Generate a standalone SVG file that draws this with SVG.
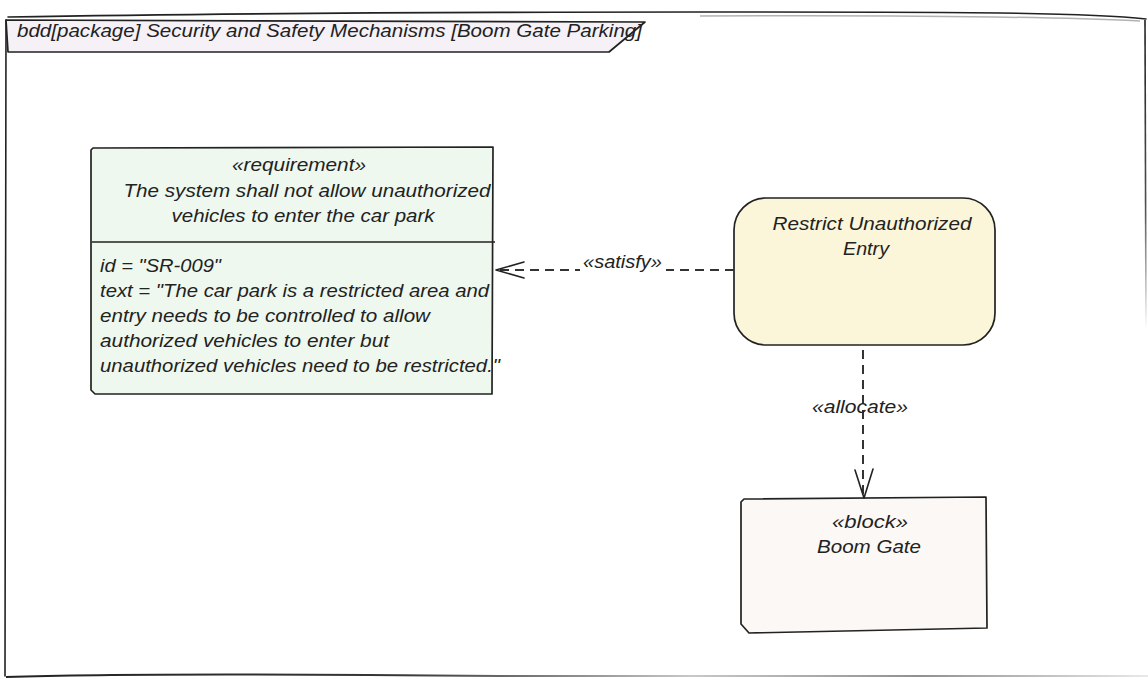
<svg xmlns="http://www.w3.org/2000/svg" width="1148" height="678" viewBox="0 0 1148 678">
<defs>
<linearGradient id="gb" x1="0" y1="0" x2="1" y2="0">
<stop offset="0" stop-color="#222" stop-opacity="1"/>
<stop offset="0.35" stop-color="#222" stop-opacity="0.9"/>
<stop offset="0.6" stop-color="#222" stop-opacity="0.25"/>
<stop offset="0.8" stop-color="#222" stop-opacity="0.5"/>
<stop offset="1" stop-color="#222" stop-opacity="0.1"/>
</linearGradient>
<linearGradient id="gr" x1="0" y1="0" x2="0" y2="1">
<stop offset="0" stop-color="#222" stop-opacity="1"/>
<stop offset="0.6" stop-color="#222" stop-opacity="0.8"/>
<stop offset="1" stop-color="#222" stop-opacity="0"/>
</linearGradient>
</defs>
<style>
.t{font-family:"Liberation Sans",Arial,sans-serif;font-style:italic;font-size:19px;fill:#222}
.c{text-anchor:middle}
.sk{stroke:#222;stroke-width:1.6;fill:none;stroke-linejoin:round;stroke-linecap:round}
.box{stroke:#222;stroke-width:1.7;stroke-linejoin:round}
.dash{stroke:#333;stroke-width:2;fill:none;stroke-dasharray:9 6}
</style>
<rect width="1148" height="678" fill="#fff"/>
<g id="frame">
<path class="sk" d="M8,17 C300,12 700,11 1000,13 C1080,14 1120,16 1146,19"/>
<path d="M700,16 C900,15 1050,17 1140,21" stroke="#222" stroke-opacity="0.35" stroke-width="1.5" fill="none"/>
<path d="M1145,20 L1146,330" stroke="url(#gr)" stroke-width="1.6" fill="none"/>
<path class="sk" d="M6,20 L5,676"/>
<path d="M6,677 C120,673 300,674 500,676 C800,677 1000,677 1148,676" stroke="url(#gb)" stroke-width="2" fill="none"/>
<path class="box" d="M6,20 L645,22 L609,52 L8,52 Z" fill="#F5F1F6"/>
<text class="t" x="17" y="37" textLength="625" lengthAdjust="spacingAndGlyphs">bdd[package] Security and Safety Mechanisms [Boom Gate Parking]</text>
</g>
<g id="requirement">
<path class="box" d="M93,148 L493,147 L492,394 L95,394 L91,390 L91,150 Z" fill="#EFF8EE"/>
<line x1="92" y1="242" x2="495" y2="242" stroke="#222" stroke-width="1.6"/>
<text class="t c" x="299" y="171" textLength="134" lengthAdjust="spacingAndGlyphs">«requirement»</text>
<text class="t c" x="307" y="197" textLength="367" lengthAdjust="spacingAndGlyphs">The system shall not allow unauthorized</text>
<text class="t c" x="303" y="222" textLength="263" lengthAdjust="spacingAndGlyphs">vehicles to enter the car park</text>
<text class="t" x="100" y="272" textLength="121" lengthAdjust="spacingAndGlyphs">id = "SR-009"</text>
<text class="t" x="100" y="297" textLength="389" lengthAdjust="spacingAndGlyphs">text = "The car park is a restricted area and</text>
<text class="t" x="100" y="322" textLength="330" lengthAdjust="spacingAndGlyphs">entry needs to be controlled to allow</text>
<text class="t" x="100" y="347" textLength="289" lengthAdjust="spacingAndGlyphs">authorized vehicles to enter but</text>
<text class="t" x="100" y="372" textLength="400" lengthAdjust="spacingAndGlyphs">unauthorized vehicles need to be restricted."</text>
</g>
<g id="restrict">
<rect class="box" x="734" y="198" width="261" height="147" rx="32" fill="#FBF5DA"/>
<text class="t c" x="872" y="230" textLength="199" lengthAdjust="spacingAndGlyphs">Restrict Unauthorized</text>
<text class="t c" x="866" y="255" textLength="46" lengthAdjust="spacingAndGlyphs">Entry</text>
</g>
<g id="boomgate">
<path class="box" d="M744,499 L986,497 L987,628 L749,633 L741,624 L741,502 Z" fill="#FCF8F5"/>
<text class="t c" x="870" y="528" textLength="76" lengthAdjust="spacingAndGlyphs">«block»</text>
<text class="t c" x="869" y="553" textLength="104" lengthAdjust="spacingAndGlyphs">Boom Gate</text>
</g>
<g id="connectors">
<line class="dash" x1="734" y1="270" x2="497" y2="270"/>
<polyline class="sk" points="524,262 496,270 524,278"/>
<rect x="580" y="252" width="86" height="22" fill="#fff"/>
<text class="t" x="583" y="268" textLength="79" lengthAdjust="spacingAndGlyphs">«satisfy»</text>
<line class="dash" x1="863" y1="350" x2="863" y2="496"/>
<polyline class="sk" points="855,470 864,498 873,469"/>
<text class="t c" x="860" y="413" textLength="96" lengthAdjust="spacingAndGlyphs">«allocate»</text>
</g>
</svg>
